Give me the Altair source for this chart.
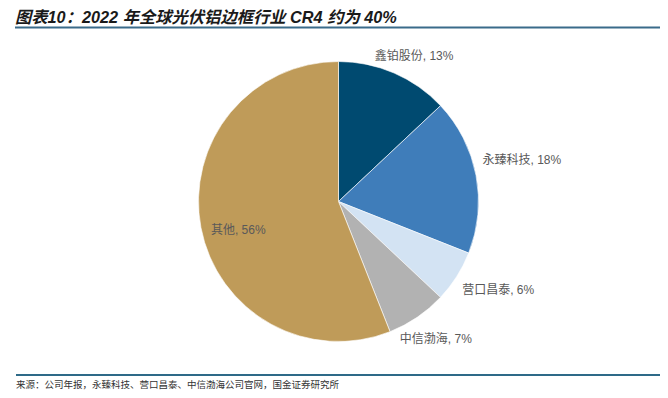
import math
import altair as alt
import pandas as pd

# ---- data ----
categories = ["鑫铂股份", "永臻科技", "营口昌泰", "中信渤海", "其他"]
shares = [13, 18, 6, 7, 56]
colors = ["#004A70", "#3F7DBA", "#D3E3F3", "#B2B2B2", "#BF9B59"]

title_text = "图表10：2022 年全球光伏铝边框行业 CR4 约为 40%"
source_text = "来源：公司年报，永臻科技、营口昌泰、中信渤海公司官网，国金证券研究所"

df = pd.DataFrame({"cat": categories, "share": shares, "idx": list(range(len(categories)))})
total = sum(shares)
tscale = alt.Scale(domain=[0, total], range=[0, 2 * math.pi])

W, H = 652, 382
CX, CY = 330.5, 193.5  # pie centre inside the view
LABEL_FONT = "Liberation Sans, 'Noto Sans CJK SC', sans-serif"

base = alt.Chart(df)

pie = base.mark_arc(radius=140, stroke="white", strokeWidth=0.6, x=CX, y=CY).encode(
    theta=alt.Theta("share:Q", stack=True, scale=tscale),
    color=alt.Color("cat:N", scale=alt.Scale(domain=categories, range=colors), legend=None),
    order=alt.Order("idx:Q"),
)

# label placement styles (radius from centre, then nudge)
label_style = {
    "鑫铂股份": dict(radius=150, dx=16, dy=-8),
    "永臻科技": dict(radius=150, dx=36, dy=-13),
    "营口昌泰": dict(radius=150, dx=33, dy=8),
    "中信渤海": dict(radius=150, dx=13, dy=13),
    "其他": dict(radius=100, dx=-2, dy=10),
}

labels = []
for cat, st in label_style.items():
    labels.append(
        base.transform_window(cum="sum(share)", sort=[alt.SortField("idx")], frame=[None, 0])
        .transform_calculate(mid="datum.cum - datum.share / 2",
                             label="datum.cat + ', ' + datum.share + '%'")
        .transform_filter(alt.datum.cat == cat)
        .mark_text(font=LABEL_FONT, fontSize=12, color="#595959", align="center",
                   baseline="middle", x=CX, y=CY, **st)
        .encode(theta=alt.Theta("mid:Q", stack=False, scale=tscale), text="label:N")
    )

deco_df = pd.DataFrame({"t": [title_text], "s": [source_text]})
deco = alt.Chart(deco_df)

title = deco.mark_text(font=LABEL_FONT, fontSize=16.3, fontStyle="italic",
                       fontWeight="bold", color="#1a1a1a", align="left", baseline="top").encode(
    text="t:N", x=alt.value(7), y=alt.value(2)
)
title_rule = deco.mark_rule(color="#3A6B8A", strokeWidth=2).encode(
    x=alt.value(7), x2=alt.value(W), y=alt.value(19.5)
)
source_rule = deco.mark_rule(color="#2E6A88", strokeWidth=2).encode(
    x=alt.value(8), x2=alt.value(W), y=alt.value(367)
)
source = deco.mark_text(font="'Noto Sans CJK SC', sans-serif", fontSize=9.5, color="#333333",
                        align="left", baseline="middle").encode(
    text="s:N", x=alt.value(8), y=alt.value(376.5)
)

chart = alt.layer(pie, *labels, title, title_rule, source_rule, source).properties(
    width=W, height=H, autosize="none", padding=0, background="white"
).configure_view(stroke=None)

chart.save("out.html", embed_options={"renderer": "svg", "actions": False})
